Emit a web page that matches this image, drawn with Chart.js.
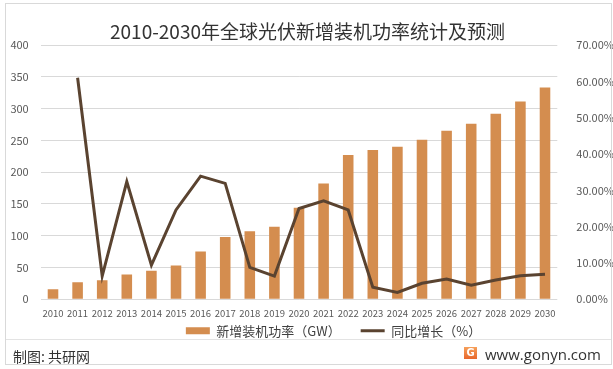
<!DOCTYPE html>
<html>
<head>
<meta charset="utf-8">
<script src="https://cdn.jsdelivr.net/npm/chart.js@4"></script>
<style>
    body { margin: 0; background: #ffffff; }
    .wrap { position: relative; width: 613px; height: 369px; overflow: hidden; font-family: "Noto Sans CJK SC", "Noto Sans", sans-serif; }
    canvas { position: absolute; left: 0; top: 0; }
    .frame { position: absolute; left: 5px; top: 3px; width: 605px; height: 360px; border: 1px solid #d9d9d9; pointer-events: none; }
    .line-sep { position: absolute; left: 5px; top: 339px; width: 606px; height: 1px; background: #e3e3e3; }
    .title { position: absolute; left: 0; width: 613px; top: 18px; text-align: center; font-size: 19px; color: #333333; line-height: 26px; transform: translateX(1px); }
    .maker { position: absolute; left: 13px; top: 346px; font-size: 14px; color: #333333; line-height: 20px; }
    .site { position: absolute; left: 485px; top: 344px; font-size: 15px; color: #333333; line-height: 20px; font-family: "Open Sans", "Noto Sans", sans-serif; }
    .logo { position: absolute; left: 464px; top: 347px; width: 13px; height: 12px; background: linear-gradient(#f6a05a, #e8672c); color: #fff; font: bold 10px "DejaVu Sans", sans-serif; text-align: center; line-height: 12px; }
</style>
</head>
<body>
<div class="wrap">
    <canvas id="chart" width="613" height="369"></canvas>
    <div class="title">2010-2030年全球光伏新增装机功率统计及预测</div>
    <div class="line-sep"></div>
    <div class="maker">制图: 共研网</div>
    <div class="logo">G</div>
    <div class="site">www.gonyn.com</div>
    <div class="frame"></div>
</div>
<script>
// jaren op de x-as
const years = ['2010', '2011', '2012', '2013', '2014', '2015', '2016', '2017', '2018', '2019', '2020',
    '2021', '2022', '2023', '2024', '2025', '2026', '2027', '2028', '2029', '2030'];

// nieuw geinstalleerd vermogen in GW (staven)
const capacity = [16, 27, 30, 39, 45, 53, 75, 98, 107, 114, 144,
    182, 227, 235, 240, 251, 265, 276, 292, 311, 333];

// groei t.o.v. vorig jaar in % (lijn), 2010 heeft geen waarde
const growth = [null, 61.0, 6.4, 32.4, 9.4, 24.6, 33.9, 31.9, 8.8, 6.4, 25.0,
    27.1, 24.6, 3.3, 1.9, 4.4, 5.6, 3.9, 5.3, 6.5, 6.9];

const barColor = '#d48d4f';
const lineColor = '#5a4330';
const tickColor = '#595959';

const ctx = document.querySelector('#chart');

// schuift de legenda iets omhoog en naar rechts, zoals in het origineel
const legendShift = {
    id: 'legendShift',
    afterLayout(chart) {
        const legend = chart.legend;
        legend.top -= 15;
        legend.bottom -= 15;
        legend.left += 23;
        legend.right += 23;
    }
};

new Chart(ctx, {
    data: {
        labels: years,
        datasets: [{
            type: 'line',
            label: '同比增长（%）',
            data: growth,
            yAxisID: 'y1',
            borderColor: lineColor,
            backgroundColor: lineColor,
            borderWidth: 3,
            pointRadius: 0,
            tension: 0,
            order: 0
        },
        {
            type: 'bar',
            label: '新增装机功率（GW）',
            data: capacity,
            yAxisID: 'y',
            backgroundColor: barColor,
            categoryPercentage: 1,
            barPercentage: 0.43,
            order: 1
        }]
    },
    plugins: [legendShift],
    options: {
        responsive: false,
        animation: false,
        devicePixelRatio: 1,
        layout: {
            padding: { left: 8, right: 0, top: 45, bottom: 6.7 }
        },
        scales: {
            x: {
                grid: { display: false, drawTicks: false },
                border: { display: false },
                ticks: {
                    color: tickColor,
                    font: { size: 9.5, family: '"Noto Sans CJK SC", sans-serif' },
                    padding: 8,
                    maxRotation: 0,
                    autoSkip: false
                },
                afterFit: function (scale) { scale.height = 20; }
            },
            y: {
                position: 'left',
                min: 0,
                max: 400,
                grid: { color: '#d9d9d9', drawTicks: false },
                border: { display: false },
                ticks: {
                    stepSize: 50,
                    color: tickColor,
                    padding: 12,
                    font: { size: 11, family: '"Noto Sans CJK SC", sans-serif' }
                },
                afterFit: function (scale) { scale.width = 32.7; }
            },
            y1: {
                position: 'right',
                min: 0,
                max: 70,
                grid: { display: false },
                border: { display: false },
                ticks: {
                    stepSize: 10,
                    color: tickColor,
                    padding: 11,
                    font: { size: 11, family: '"Noto Sans CJK SC", sans-serif' },
                    callback: function (value) { return value.toFixed(2) + '%'; }
                },
                afterFit: function (scale) { scale.width = 55.7; }
            }
        },
        plugins: {
            title: { display: false },
            tooltip: { enabled: false },
            legend: {
                position: 'bottom',
                reverse: true,
                labels: {
                    color: '#404040',
                    font: { size: 13, family: '"Noto Sans CJK SC", sans-serif' },
                    padding: 20,
                    usePointStyle: true,
                    pointStyleWidth: 24,
                    boxHeight: 7,
                    generateLabels: function (chart) {
                        const items = Chart.defaults.plugins.legend.labels.generateLabels(chart);
                        items.forEach(item => {
                            if (item.datasetIndex === 0) {
                                item.pointStyle = 'line';
                                item.strokeStyle = lineColor;
                                item.lineWidth = 3;
                            } else {
                                item.pointStyle = 'rect';
                                item.fillStyle = barColor;
                                item.strokeStyle = barColor;
                                item.lineWidth = 0;
                            }
                        });
                        return items;
                    }
                }
            }
        }
    }
});
</script>
</body>
</html>
